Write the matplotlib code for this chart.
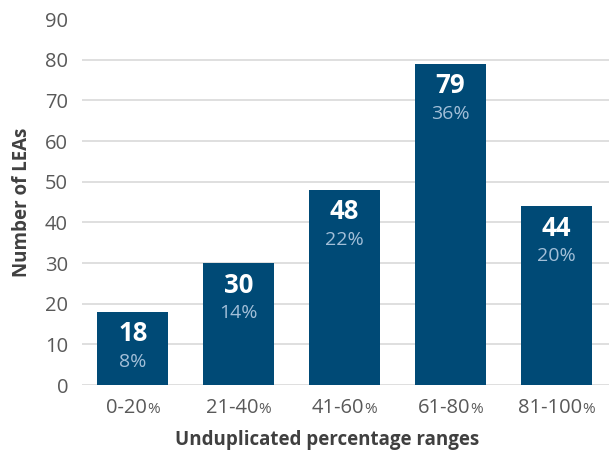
import matplotlib
matplotlib.use("Agg")
import matplotlib.pyplot as plt

plt.rcParams['font.family'] = ['Open Sans', 'DejaVu Sans']

ranges = ["0-20", "21-40", "41-60", "61-80", "81-100"]
counts = [18, 30, 48, 79, 44]
shares = ["8", "14", "22", "36", "20"]

bar_color = "#004a76"
pct_color = "#a3bfd8"
tick_color = "#595959"
label_color = "#404040"

fig = plt.figure(figsize=(6.09, 4.53), dpi=100)
ax = fig.add_axes([0.1346, 0.15, 0.8654, 0.808])

x = list(range(len(ranges)))
bars = ax.bar(x, counts, width=0.67, color=bar_color, zorder=3)

ax.set_ylim(0, 90)
ax.set_xlim(-0.48, 4.5)
ax.set_yticks(range(0, 91, 10))
ax.tick_params(axis='y', length=0, labelsize=14.5, labelcolor=tick_color, pad=10)
ax.tick_params(axis='x', length=0, labelbottom=False)
for v in range(0, 81, 10):
    ax.axhline(v, color="#d9d9d9", lw=1.2, zorder=1)
for s in ax.spines.values():
    s.set_visible(False)

# bar labels: count and share
for xi, c, s in zip(x, counts, shares):
    ax.annotate(str(c), (xi, c), xytext=(0, -22), textcoords="offset pixels",
                ha="center", va="center", color="white", fontsize=18.5,
                fontweight="bold", zorder=4)
    ax.annotate(s + "%", (xi, c), xytext=(0, -50), textcoords="offset pixels",
                ha="center", va="center", color=pct_color, fontsize=14, zorder=4)

# x tick labels with a smaller percent sign
fig.canvas.draw()
renderer = fig.canvas.get_renderer()
for xi, r in zip(x, ranges):
    t1 = ax.annotate(r, (xi, 0), xycoords=("data", "axes fraction"),
                     xytext=(0, -23), textcoords="offset pixels",
                     ha="center", va="center", fontsize=14.5, color=tick_color)
    t2 = ax.annotate("%", (xi, 0), xycoords=("data", "axes fraction"),
                     xytext=(0, -24), textcoords="offset pixels",
                     ha="left", va="center", fontsize=11, color=tick_color)
    w1 = t1.get_window_extent(renderer).width
    w2 = t2.get_window_extent(renderer).width
    shift = -w2 / 2
    t1.set_position((shift, -23))
    t2.set_position((shift + w1 / 2, -24))

ax.set_ylabel("Number of LEAs", fontsize=13.5, fontweight="bold", color=label_color, labelpad=9)
fig.text(0.537, 0.028, "Unduplicated percentage ranges", ha="center", va="center",
         fontsize=13.5, fontweight="bold", color=label_color)

fig.savefig("out.png", dpi=100)
